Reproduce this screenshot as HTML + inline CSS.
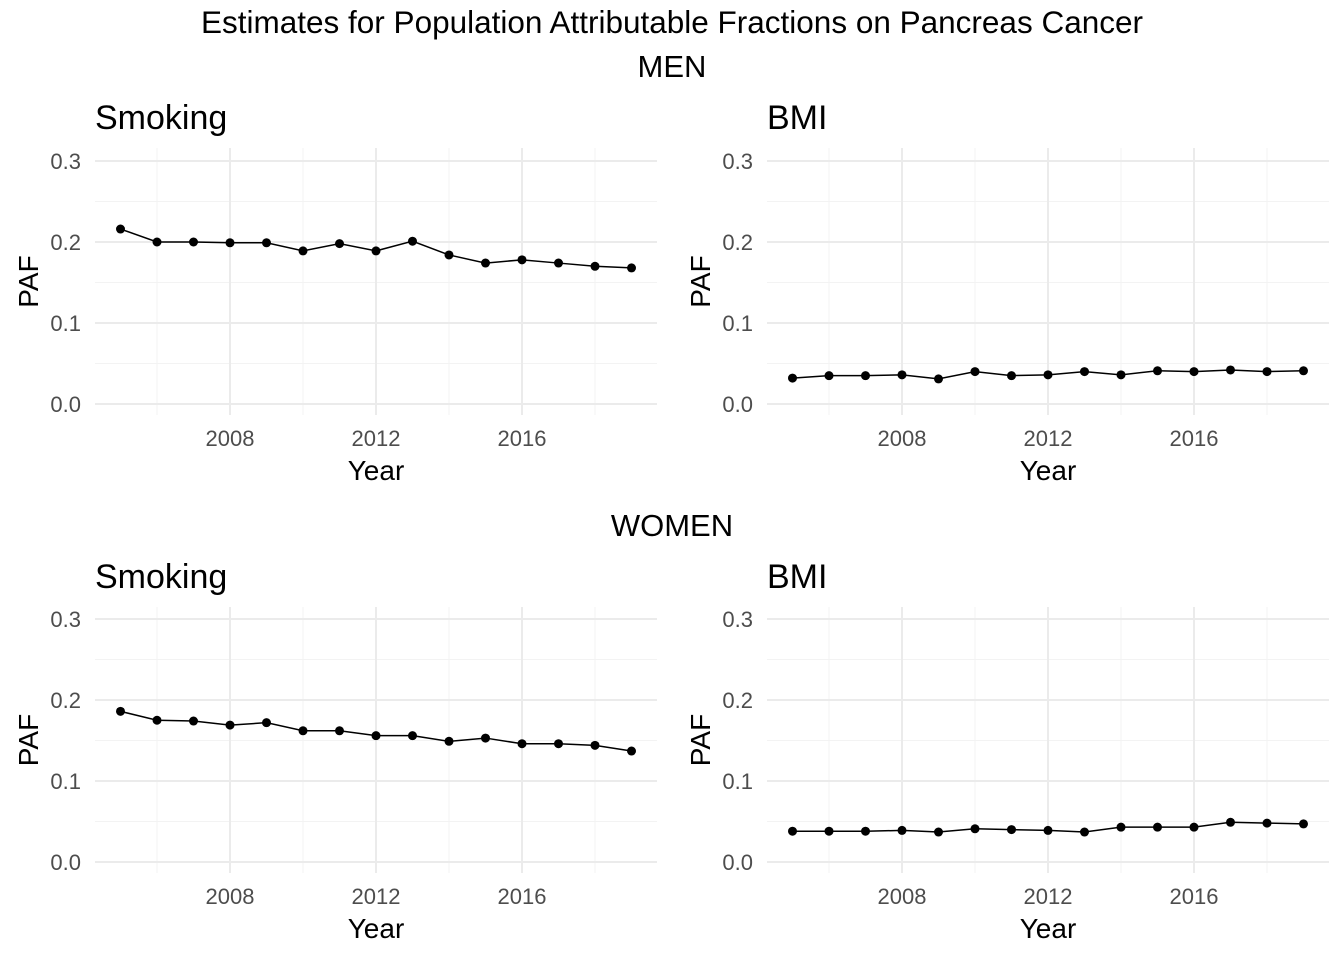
<!DOCTYPE html>
<html><head><meta charset="utf-8"><style>
body{margin:0;background:#fff;}
svg{display:block;font-family:"Liberation Sans",Arial,sans-serif;}
</style></head><body>
<svg id="chart" width="1344" height="960">
<text x="672" y="33" text-anchor="middle" font-size="31.5" fill="#000">Estimates for Population Attributable Fractions on Pancreas Cancer</text>
<text x="672" y="77" text-anchor="middle" font-size="31" fill="#000">MEN</text>
<text x="672" y="536" text-anchor="middle" font-size="31" fill="#000">WOMEN</text>
</svg>
<script>
const years=[2005,2006,2007,2008,2009,2010,2011,2012,2013,2014,2015,2016,2017,2018,2019];
const menSmoking=[0.216,0.200,0.200,0.199,0.199,0.189,0.198,0.189,0.201,0.184,0.174,0.178,0.174,0.170,0.168];
const menBMI=[0.032,0.035,0.035,0.036,0.031,0.040,0.035,0.036,0.040,0.036,0.041,0.040,0.042,0.040,0.041];
const womenSmoking=[0.186,0.175,0.174,0.169,0.172,0.162,0.162,0.156,0.156,0.149,0.153,0.146,0.146,0.144,0.137];
const womenBMI=[0.038,0.038,0.038,0.039,0.037,0.041,0.040,0.039,0.037,0.043,0.043,0.043,0.049,0.048,0.047];
const xTicks=[2008,2012,2016];
const xMinor=[2006,2010,2014,2018];
const yTicks=[0,0.1,0.2,0.3];
const yTickLabels=["0.0","0.1","0.2","0.3"];
const yMinor=[0.05,0.15,0.25];

const svg=document.getElementById('chart');
const NS='http://www.w3.org/2000/svg';
function mk(tag,attrs,parent){const e=document.createElementNS(NS,tag);for(const k in attrs)e.setAttribute(k,attrs[k]);parent.appendChild(e);return e;}

const panels=[
 {name:'men-smoking',title:'Smoking',data:menSmoking,x0:95,x1:657,y0:148,y1:415,xa:230,xb:522,ya:404},
 {name:'men-bmi',title:'BMI',data:menBMI,x0:767,x1:1329,y0:148,y1:415,xa:902,xb:1194,ya:404},
 {name:'women-smoking',title:'Smoking',data:womenSmoking,x0:95,x1:657,y0:607,y1:873,xa:230,xb:522,ya:862},
 {name:'women-bmi',title:'BMI',data:womenBMI,x0:767,x1:1329,y0:607,y1:873,xa:902,xb:1194,ya:862}
];
panels.forEach(p=>{
  const g=mk('g',{},svg);
  
  
  const sx=v=>p.xa+(v-2008)*(p.xb-p.xa)/8;
  const sy=v=>p.ya-v*810;
  yMinor.forEach(v=>{const l=mk('line',{x1:p.x0,x2:p.x1,y1:sy(v),y2:sy(v),stroke:'#f3f3f3','stroke-width':1},g);
    });
  xMinor.forEach(v=>{const l=mk('line',{x1:sx(v),x2:sx(v),y1:p.y0,y2:p.y1,stroke:'#f3f3f3','stroke-width':1},g);
    });
  yTicks.forEach((v,i)=>{const l=mk('line',{x1:p.x0,x2:p.x1,y1:sy(v),y2:sy(v),stroke:'#ebebeb','stroke-width':2},g);
    
    const t=mk('text',{x:p.x0-14,y:sy(v)+8,'text-anchor':'end','font-size':22,fill:'#4d4d4d'},g);t.textContent=yTickLabels[i];
    });
  xTicks.forEach(v=>{const l=mk('line',{x1:sx(v),x2:sx(v),y1:p.y0,y2:p.y1,stroke:'#ebebeb','stroke-width':2},g);
    
    const t=mk('text',{x:sx(v),y:p.y1+31,'text-anchor':'middle','font-size':22,fill:'#4d4d4d'},g);t.textContent=v;
    });
  const tt=mk('text',{x:p.x0,y:p.y0-19,'font-size':34,fill:'#000'},g);tt.textContent=p.title;
  
  const xt=mk('text',{x:(p.x0+p.x1)/2,y:p.y1+65,'text-anchor':'middle','font-size':28,fill:'#000'},g);xt.textContent='Year';
  
  const cy=(p.y0+p.y1)/2;
  const yt=mk('text',{x:p.x0-67,y:cy,'text-anchor':'middle','font-size':28,fill:'#000',transform:`rotate(-90 ${p.x0-67} ${cy})`},g);
  yt.setAttribute('dy','10');yt.textContent='PAF';
  
  const pts=years.map((y,i)=>sx(y)+','+sy(p.data[i])).join(' ');
  const pl=mk('polyline',{points:pts,fill:'none',stroke:'#000','stroke-width':1.5},g);
  
  years.forEach((y,i)=>{const c=mk('circle',{cx:sx(y),cy:sy(p.data[i]),r:4.5,fill:'#000'},g);
    });
});
</script>
</body></html>
